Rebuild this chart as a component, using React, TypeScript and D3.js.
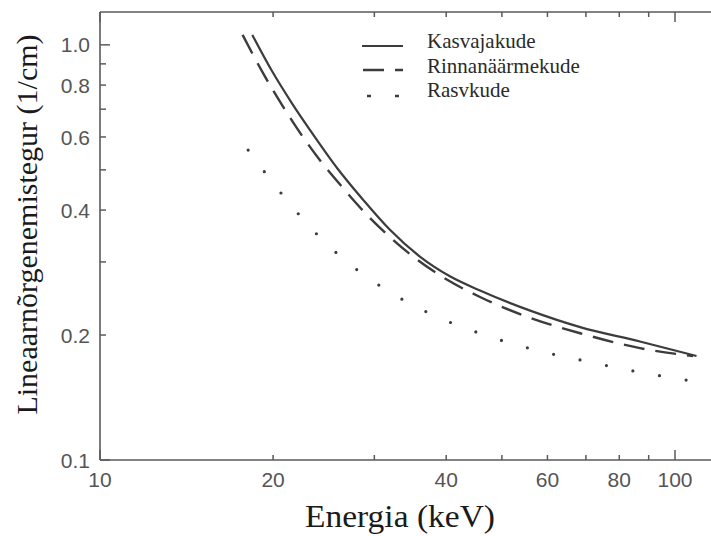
import React from "react";
import * as d3 from "d3";

// Linear attenuation coefficient vs photon energy (log–log)
const tumorEnergy = [18.4, 19.9, 21.6, 23.5, 25.9, 28.7, 31.9, 36.0, 40.6, 45.8, 56, 68.4, 86.9, 109];
const tumorMu = [1.057, 0.866, 0.721, 0.607, 0.503, 0.423, 0.359, 0.309, 0.277, 0.256, 0.229, 0.209, 0.193, 0.178];

const glandEnergy = [17.7, 19.2, 20.8, 22.5, 24.4, 26.5, 28.7, 31.7, 35.7, 40.3, 45.8, 56, 68.4, 86.9, 107.5];
const glandMu = [1.057, 0.856, 0.711, 0.602, 0.517, 0.451, 0.398, 0.3475, 0.303, 0.271, 0.247, 0.22, 0.202, 0.186, 0.178];

const fatEnergy = [18.1, 20.7, 23.9, 25.9, 30.9, 37.3, 45.6, 56.4, 69.7, 86.3, 107];
const fatMu = [0.558, 0.4375, 0.3485, 0.3135, 0.261, 0.226, 0.2023, 0.185, 0.1732, 0.163, 0.155];

const seriesNames = ["Kasvajakude", "Rinnanäärmekude", "Rasvkude"];

const xTickValues = [10, 20, 30, 40, 50, 60, 70, 80, 90, 100];
const xTickLabels = [10, 20, 40, 60, 80, 100];
const yTickValues = [0.1, 0.2, 0.3, 0.4, 0.5, 0.6, 0.7, 0.8, 0.9, 1.0];
const yTickLabels = [0.1, 0.2, 0.4, 0.6, 0.8, 1.0];

const W = 711;
const H = 536;
const left = 100;
const top = 12;
const bottom = 460;

const x = d3.scaleLog().domain([10, 115]).range([left, left + 575 * Math.log10(11.5)]);
const y = d3.scaleLog().domain([0.1, 1.2]).range([bottom, top]);

const line = d3
  .line<[number, number]>()
  .x((d) => x(d[0]))
  .y((d) => y(d[1]))
  .curve(d3.curveMonotoneX);

const zip = (a: number[], b: number[]): [number, number][] => a.map((v, i) => [v, b[i]]);

const curveColor = "#3c3c3c";
const axisColor = "#5a5a5a";
const tickFont = "Liberation Sans, Arial, Helvetica, sans-serif";
const serifFont = "Liberation Serif, Times New Roman, serif";

export default function App() {
  const styles = [
    { dash: undefined, width: 2.2, cap: "butt" },
    { dash: "21 11", width: 2.4, cap: "butt" },
    { dash: "0 27", width: 3.2, cap: "round" },
  ];
  const data = [zip(tumorEnergy, tumorMu), zip(glandEnergy, glandMu), zip(fatEnergy, fatMu)];
  const xRight = W;

  return (
    <svg
      width={W}
      height={H}
      style={{ position: "absolute", left: 0, top: 0, background: "#fff" }}
    >
      {/* frame */}
      <line x1={left} y1={top} x2={xRight} y2={top} stroke={axisColor} strokeWidth={1.6} />
      <line x1={left} y1={bottom} x2={xRight} y2={bottom} stroke={axisColor} strokeWidth={1.6} />
      <line x1={left} y1={top} x2={left} y2={bottom} stroke={axisColor} strokeWidth={1.6} />

      {/* x ticks, bottom and top */}
      {xTickValues.map((v) => {
        const len = v === 10 || v === 100 ? 10 : 5;
        return (
          <g key={"xt" + v}>
            <line x1={x(v)} x2={x(v)} y1={bottom} y2={bottom - len} stroke={axisColor} strokeWidth={1.5} />
            <line x1={x(v)} x2={x(v)} y1={top} y2={top + len} stroke={axisColor} strokeWidth={1.5} />
          </g>
        );
      })}
      {xTickLabels.map((v) => (
        <text
          key={"xl" + v}
          x={x(v)}
          y={487}
          textAnchor="middle"
          fontFamily={tickFont}
          fontSize={21}
          fill="#555"
        >
          {v}
        </text>
      ))}

      {/* y ticks */}
      {yTickValues.map((v) => {
        const len = Math.abs(v - 1) < 1e-9 || Math.abs(v - 0.1) < 1e-9 ? 10 : 6;
        return (
          <line
            key={"yt" + v}
            x1={left}
            x2={left + len}
            y1={y(v)}
            y2={y(v)}
            stroke={axisColor}
            strokeWidth={1.5}
          />
        );
      })}
      {yTickLabels.map((v) => (
        <text
          key={"yl" + v}
          x={90}
          y={y(v)}
          dy="0.36em"
          textAnchor="end"
          fontFamily={tickFont}
          fontSize={21}
          fill="#555"
        >
          {v.toFixed(1)}
        </text>
      ))}

      {/* curves */}
      {data.map((d, i) => (
        <path
          key={"c" + i}
          d={line(d) || ""}
          fill="none"
          stroke={curveColor}
          strokeWidth={styles[i].width}
          strokeDasharray={styles[i].dash}
          strokeLinecap={styles[i].cap as any}
        />
      ))}

      {/* legend */}
      <g>
        <line x1={362} x2={403} y1={46} y2={46} stroke={curveColor} strokeWidth={2.2} />
        <line x1={363} x2={403} y1={70} y2={70} stroke={curveColor} strokeWidth={2.4} strokeDasharray="21 11" />
        <line x1={367} x2={403} y1={96} y2={96} stroke={curveColor} strokeWidth={2.4} strokeDasharray="4 24" />
        {seriesNames.map((name, i) => (
          <text
            key={name}
            x={427}
            y={48 + i * 24.5}
            fontFamily={serifFont}
            fontSize={21}
            fill="#2a2a2a"
          >
            {name}
          </text>
        ))}
      </g>

      {/* axis titles */}
      <text
        x={400}
        y={527}
        textAnchor="middle"
        fontFamily={serifFont}
        fontSize={31}
        fill="#1a1a1a"
        textLength={190}
        lengthAdjust="spacingAndGlyphs"
      >
        Energia (keV)
      </text>
      <text
        transform={`translate(37,${224.5}) rotate(-90)`}
        textAnchor="middle"
        fontFamily={serifFont}
        fontSize={30}
        fill="#1a1a1a"
      >
        Lineaarnõrgenemistegur (1/cm)
      </text>
    </svg>
  );
}
